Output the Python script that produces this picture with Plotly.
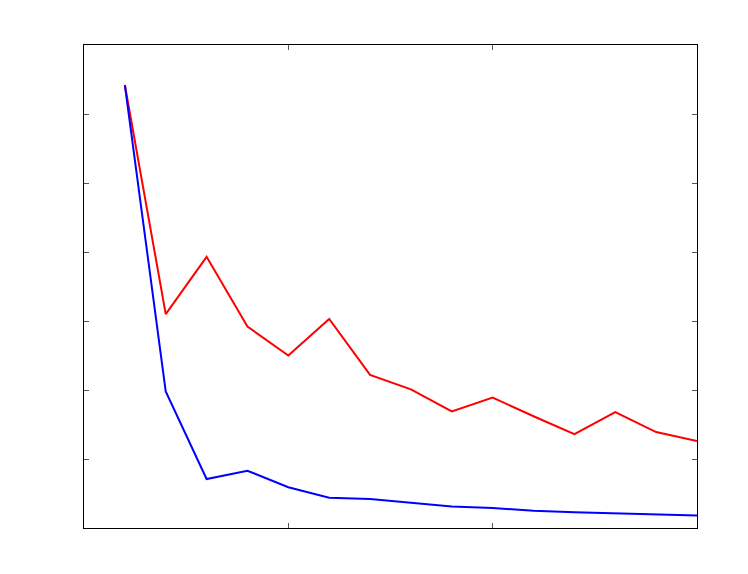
import plotly.graph_objects as go

x_vals = list(range(1, 16))
red_vals = [6.42, 3.10, 3.93, 2.92, 2.50, 3.03, 2.22, 2.01, 1.69, 1.89, 1.62, 1.36, 1.68, 1.39, 1.26]
blue_vals = [6.42, 1.98, 0.71, 0.83, 0.59, 0.44, 0.42, 0.36, 0.31, 0.29, 0.25, 0.23, 0.21, 0.19, 0.18]
x_ticks = [0, 5, 10, 15]
y_ticks = [0, 1, 2, 3, 4, 5, 6, 7]

fig = go.Figure()
fig.add_trace(go.Scatter(x=x_vals, y=red_vals, mode="lines",
                         line=dict(color="#ff0000", width=2), showlegend=False))
fig.add_trace(go.Scatter(x=x_vals, y=blue_vals, mode="lines",
                         line=dict(color="#0000ff", width=2), showlegend=False))

axis_common = dict(showgrid=False, zeroline=False, showline=True, linecolor="black",
                   linewidth=1, mirror="ticks", ticks="inside", ticklen=5,
                   tickcolor="#555555", tickwidth=1, showticklabels=False)
fig.update_xaxes(range=[0, 15], tickvals=x_ticks, **axis_common)
fig.update_yaxes(range=[0, 7], tickvals=y_ticks, **axis_common)

fig.update_layout(width=748, height=574,
                  margin=dict(l=76, r=59, t=37, b=54),
                  plot_bgcolor="white", paper_bgcolor="white")
fig.write_html("out.html")
